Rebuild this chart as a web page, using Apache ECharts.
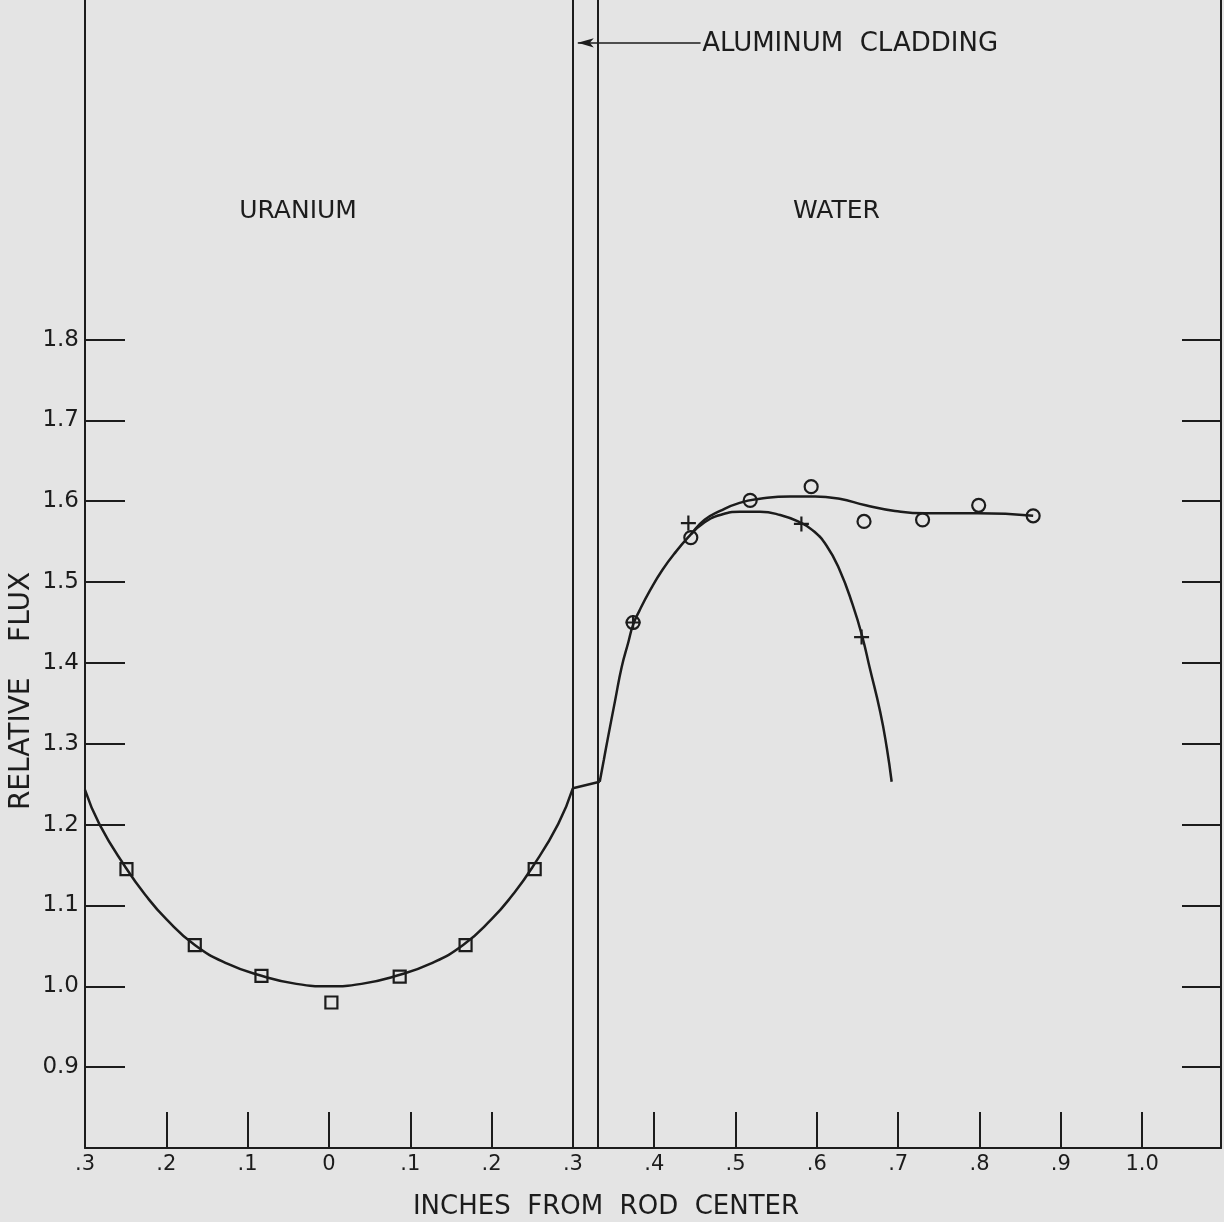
<!DOCTYPE html>
<html>
<head>
<meta charset="utf-8">
<title>Relative flux vs inches from rod center</title>
<script src="https://cdn.jsdelivr.net/npm/echarts@6/dist/echarts.min.js"></script>
<style>
html, body { margin: 0; padding: 0; background: #e4e4e4; }
#flux_chart { width: 1224px; height: 1222px; }
</style>
</head>
<body>
<div id="flux_chart"></div>
<script>
// tick values / labels
var xLabelValues = [-0.3, -0.2, -0.1, 0, 0.1, 0.2, 0.3, 0.4, 0.5, 0.6, 0.7, 0.8, 0.9, 1.0];
var xTickValues = [-0.2, -0.1, 0, 0.1, 0.2, 0.4, 0.5, 0.6, 0.7, 0.8, 0.9, 1.0];
var yTickValues = [0.9, 1.0, 1.1, 1.2, 1.3, 1.4, 1.5, 1.6, 1.7, 1.8];

// cladding boundaries (inches)
var claddingX = [0.3, 0.333];

// uranium measurements (squares)
var uraniumX = [-0.249, -0.165, -0.083, 0.003, 0.087, 0.168, 0.253];
var uraniumY = [1.145, 1.051, 1.013, 0.980, 1.012, 1.051, 1.145];

// uranium fitted curve
var uCurveX = [-0.3, -0.282, -0.25, -0.225, -0.2, -0.165, -0.125, -0.083, -0.04, 0, 0.04, 0.083, 0.125, 0.165, 0.2, 0.225, 0.25, 0.282, 0.3];
var uCurveY = [1.243, 1.200, 1.147, 1.112, 1.083, 1.051, 1.028, 1.013, 1.003, 1.0, 1.003, 1.013, 1.028, 1.051, 1.083, 1.112, 1.147, 1.201, 1.245];

// flux across the cladding
var cladCurveX = [0.3, 0.333];
var cladCurveY = [1.245, 1.253];

// water, circle measurements
var circleX = [0.374, 0.445, 0.518, 0.593, 0.658, 0.730, 0.799, 0.866];
var circleY = [1.450, 1.555, 1.601, 1.618, 1.575, 1.577, 1.595, 1.582];

// water, plus measurements
var plusX = [0.374, 0.442, 0.581, 0.655];
var plusY = [1.450, 1.573, 1.572, 1.432];

// water curve through circles
var wCurveAX = [0.333, 0.338, 0.343, 0.352, 0.360, 0.368, 0.374, 0.382, 0.395, 0.410, 0.427, 0.445, 0.462, 0.481, 0.505, 0.530, 0.567, 0.598, 0.628, 0.660, 0.696, 0.733, 0.798, 0.866];
var wCurveAY = [1.253, 1.280, 1.307, 1.354, 1.395, 1.425, 1.447, 1.465, 1.490, 1.515, 1.538, 1.559, 1.577, 1.588, 1.598, 1.603, 1.606, 1.606, 1.603, 1.595, 1.588, 1.585, 1.585, 1.582];

// water curve through plus points
var wCurveBX = [0.445, 0.462, 0.481, 0.505, 0.530, 0.555, 0.579, 0.595, 0.612, 0.628, 0.644, 0.656, 0.665, 0.678, 0.686, 0.692];
var wCurveBY = [1.559, 1.574, 1.583, 1.587, 1.587, 1.583, 1.574, 1.564, 1.545, 1.515, 1.472, 1.432, 1.394, 1.339, 1.295, 1.253];

var INK = '#1c1c1c';
var BG = '#e4e4e4';
var FONT = '"DejaVu Sans", sans-serif';

function zip(xs, ys) {
	var out = [];
	for (var i = 0; i < xs.length; i++) {
		out.push([xs[i], ys[i]]);
	}
	return out;
}

function ext(a, b) {
	return Object.assign({}, a, b);
}

function xLabelFmt(v) {
	var a = Math.abs(v);
	if (a < 1e-9) return '0';
	if (a > 0.999) return '1.0';
	return '.' + Math.round(a * 10);
}

function curveSeries(name, data) {
	return {
		name: name,
		type: 'line',
		data: data,
		smooth: 0.5,
		showSymbol: false,
		silent: true,
		z: 3,
		lineStyle: { color: INK, width: 2.5 }
	};
}

function pointSeries(name, data, symbol, size) {
	return {
		name: name,
		type: 'scatter',
		data: data,
		symbol: symbol,
		symbolSize: size,
		symbolKeepAspect: true,
		silent: true,
		z: 5,
		itemStyle: { color: 'rgba(0,0,0,0)', borderColor: INK, borderWidth: 2.2, opacity: 1 }
	};
}

var fluxChart = echarts.init(document.getElementById('flux_chart'), null, { renderer: 'canvas' });

var yAxisBase = {
	type: 'value',
	min: 0.8,
	max: 2.22,
	interval: 0.1,
	splitLine: { show: false },
	axisLine: { show: true, onZero: false, lineStyle: { color: INK, width: 2 } },
	axisTick: { show: true, inside: true, length: 40, customValues: yTickValues, lineStyle: { color: INK, width: 2 } }
};

fluxChart.setOption({
	backgroundColor: BG,
	animation: false,
	grid: { left: 85, right: 3, top: 0, bottom: 74 },
	xAxis: {
		type: 'value',
		min: -0.3,
		max: 1.097,
		interval: 0.1,
		splitLine: { show: false },
		axisLine: { show: true, onZero: false, lineStyle: { color: INK, width: 2 } },
		axisTick: { show: true, inside: true, length: 36, customValues: xTickValues, lineStyle: { color: INK, width: 2 } },
		axisLabel: {
			customValues: xLabelValues,
			formatter: xLabelFmt,
			margin: 6,
			color: INK,
			fontFamily: FONT,
			fontSize: 21
		}
	},
	yAxis: [
		ext(yAxisBase, {
			position: 'left',
			axisLabel: {
				customValues: yTickValues,
				formatter: function(v) { return v.toFixed(1); },
				margin: 6,
				color: INK,
				fontFamily: FONT,
				fontSize: 23
			}
		}),
		ext(yAxisBase, {
			position: 'right',
			axisTick: { show: true, inside: true, length: 39, customValues: yTickValues, lineStyle: { color: INK, width: 2 } },
			axisLabel: { show: false }
		})
	],
	series: [
		curveSeries('uranium curve', zip(uCurveX, uCurveY)),
		{
			name: 'cladding',
			type: 'line',
			data: zip(cladCurveX, cladCurveY),
			showSymbol: false,
			silent: true,
			z: 3,
			lineStyle: { color: INK, width: 2.5 },
			markLine: {
				silent: true,
				symbol: 'none',
				label: { show: false },
				lineStyle: { color: INK, width: 2, type: 'solid' },
				data: [
					{ xAxis: claddingX[0] },
					{ xAxis: claddingX[1] },
					[
						{ coord: [0.457, 2.167], symbol: 'none', lineStyle: { width: 1.6 } },
						{ coord: [0.306, 2.167], symbol: 'arrow', symbolSize: [7, 16] }
					]
				]
			}
		},
		curveSeries('water curve (circles)', zip(wCurveAX, wCurveAY)),
		curveSeries('water curve (plus)', zip(wCurveBX, wCurveBY)),
		pointSeries('uranium', zip(uraniumX, uraniumY), 'rect', 12),
		pointSeries('water circles', zip(circleX, circleY), 'circle', 13),
		pointSeries('water plus', zip(plusX, plusY), 'path://M0,7.5H15M7.5,0V15', 15)
	]
});

// text annotations placed on the data grid
function px(x, y) {
	return fluxChart.convertToPixel({ gridIndex: 0 }, [x, y]);
}
var uPos = px(-0.038, 1.959);
var wPos = px(0.624, 1.959);
var cPos = px(0.4565, 2.166);

var txtStyle = { fill: INK, font: '25px ' + FONT };
fluxChart.setOption({
	graphic: [
		{ type: 'text', x: uPos[0], y: uPos[1], silent: true,
			style: ext(txtStyle, { text: 'URANIUM', align: 'center', verticalAlign: 'middle' }) },
		{ type: 'text', x: wPos[0], y: wPos[1], silent: true,
			style: ext(txtStyle, { text: 'WATER', align: 'center', verticalAlign: 'middle' }) },
		{ type: 'text', x: cPos[0] + 2, y: cPos[1] + 1, silent: true,
			style: ext(txtStyle, { text: 'ALUMINUM  CLADDING', align: 'left', verticalAlign: 'middle', font: '26px ' + FONT }) },
		{ type: 'text', x: 606, y: 1207, silent: true,
			style: ext(txtStyle, { text: 'INCHES  FROM  ROD  CENTER', align: 'center', verticalAlign: 'middle', font: '26px ' + FONT }) },
		{ type: 'text', x: 22, y: 691, rotation: Math.PI / 2, silent: true,
			style: ext(txtStyle, { text: 'RELATIVE    FLUX', align: 'center', verticalAlign: 'middle', font: '28px ' + FONT }) }
	]
});
</script>
</body>
</html>
